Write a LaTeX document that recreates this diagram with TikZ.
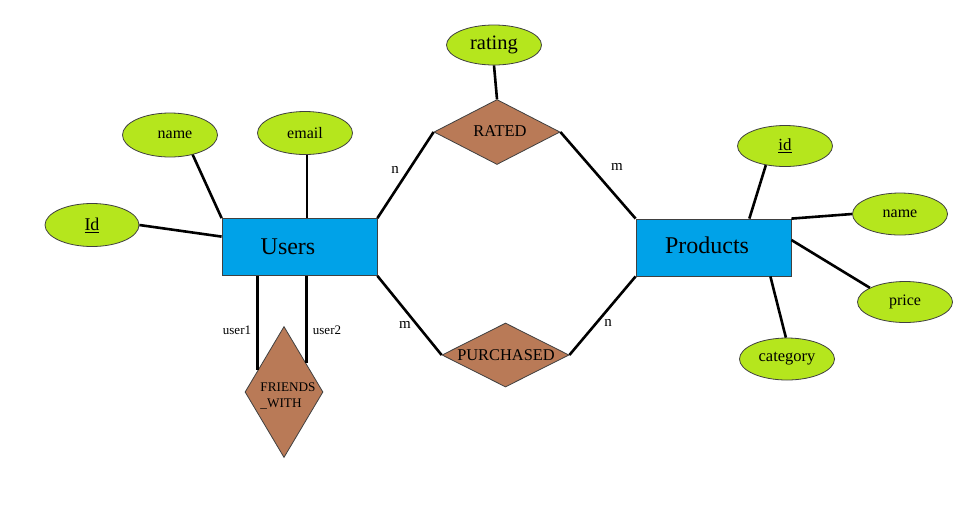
\documentclass[tikz,border=0pt]{standalone}
\usepackage{fontspec}
\setmainfont{Liberation Serif}
\usetikzlibrary{shapes.geometric,calc}
\definecolor{limeattr}{HTML}{B5E61D}
\definecolor{bluent}{HTML}{00A2E8}
\definecolor{brownrel}{HTML}{B97A57}
\definecolor{edgegray}{HTML}{404040}
\newcommand{\fsz}[1]{\fontsize{#1}{#1}\selectfont}
\begin{document}
\begin{tikzpicture}[x=1pt,y=-1pt,
  attr/.style={ellipse, draw=edgegray, line width=0.8pt, fill=limeattr, inner sep=0pt,
     minimum width=95pt, minimum height=42pt, font=\fsz{16}},
  entity/.style={rectangle, draw=edgegray, line width=0.8pt, fill=bluent, inner sep=0pt,
     minimum width=155pt, minimum height=57pt},
  rel/.style={diamond, draw=edgegray, line width=0.8pt, fill=brownrel, inner sep=0pt},
  conn/.style={line width=2.6pt, black},
  card/.style={font=\fsz{15}, inner sep=0pt},
  rolelab/.style={font=\fsz{13}, inner sep=0pt}]
\useasboundingbox[fill=white] (0,0) rectangle (979,504);

% entities
\node[entity] (users) at (299.5,247) {};
\node[font=\fsz{24}, inner sep=0pt] (userst) at (288,247) {Users};
\node[entity] (products) at (713.5,247.5) {};
\node[font=\fsz{24}, inner sep=0pt] (productst) at (707,245) {Products};

% relationships
\node[rel, minimum width=126pt, minimum height=65pt] (rated) at (497,132) {};
\node[font=\fsz{16.5}, inner sep=0pt] (ratedt) at (500,131) {RATED};
\node[rel, minimum width=127pt, minimum height=64pt] (purch) at (505.5,355) {};
\node[font=\fsz{16.4}, inner sep=0pt] (purcht) at (506,355) {PURCHASED};
\node[rel, minimum width=78pt, minimum height=131pt] (fw) at (284,392) {};
\node[font=\fontsize{13.2}{16}\selectfont, align=left, inner sep=0pt] (fwt) at (288,396) {FRIENDS\\\_WITH};

% attributes
\node[attr, minimum width=95pt, minimum height=44pt] (uname) at (170,135) {\hspace{10pt}name};
\node[attr, minimum height=43pt] (uemail) at (305,133) {email};
\node[attr, minimum width=94pt, minimum height=43pt, font=\fsz{18}] (uid) at (92,225) {\underline{Id}};
\node[attr, minimum height=40pt, font=\fsz{20.5}] (rating) at (494,45) {rating};
\node[attr, minimum height=41pt, font=\fsz{17}] (pid) at (785,146) {\underline{id}};
\node[attr] (pname) at (900,214) {name};
\node[attr, minimum height=41pt] (pprice) at (905,302) {price};
\node[attr, font=\fsz{16.5}] (pcat) at (787,359) {category};

% connectors: users attributes
\coordinate (ue) at ($(users.north west)!0.548!(users.north east)$);
\draw[conn] (uname.-41) -- (users.north west);
\draw[conn] (ue |- uemail.south) -- (ue);
\draw[conn] (uid.east) -- ($(users.north west)!0.32!(users.south west)$);

% products attributes
\draw[conn] (pid.-135) -- ($(products.north west)!0.73!(products.north east)$);
\draw[conn] (pname.west) -- (products.north east);
\draw[conn] (pprice.158) -- ($(products.north east)!0.37!(products.south east)$);
\draw[conn] (pcat.93) -- ($(products.south west)!0.865!(products.south east)$);

% rating
\draw[conn] (rating.south) -- (rated.north);

% relationships
\draw[conn] (users.north east) -- (rated.west);
\draw[conn] (rated.east) -- (products.north west);
\draw[conn] (users.south east) -- (purch.west);
\draw[conn] (purch.east) -- (products.south west);

% friends_with
\coordinate (fwa) at ($(fw.north)!0.667!(fw.west)$);
\coordinate (fwb) at ($(fw.north)!0.564!(fw.east)$);
\draw[conn] (fwa |- users.south) -- (fwa);
\draw[conn] (fwb |- users.south) -- (fwb);

% cardinality labels
\node[card] (c1) at (395,170) {n};
\node[card] (c2) at (617,167) {m};
\node[card] (c3) at (405,325) {m};
\node[card] (c4) at (608,323) {n};
\node[rolelab] (r1) at (237,330) {user1};
\node[rolelab] (r2) at (327,330) {user2};
\end{tikzpicture}
\end{document}
